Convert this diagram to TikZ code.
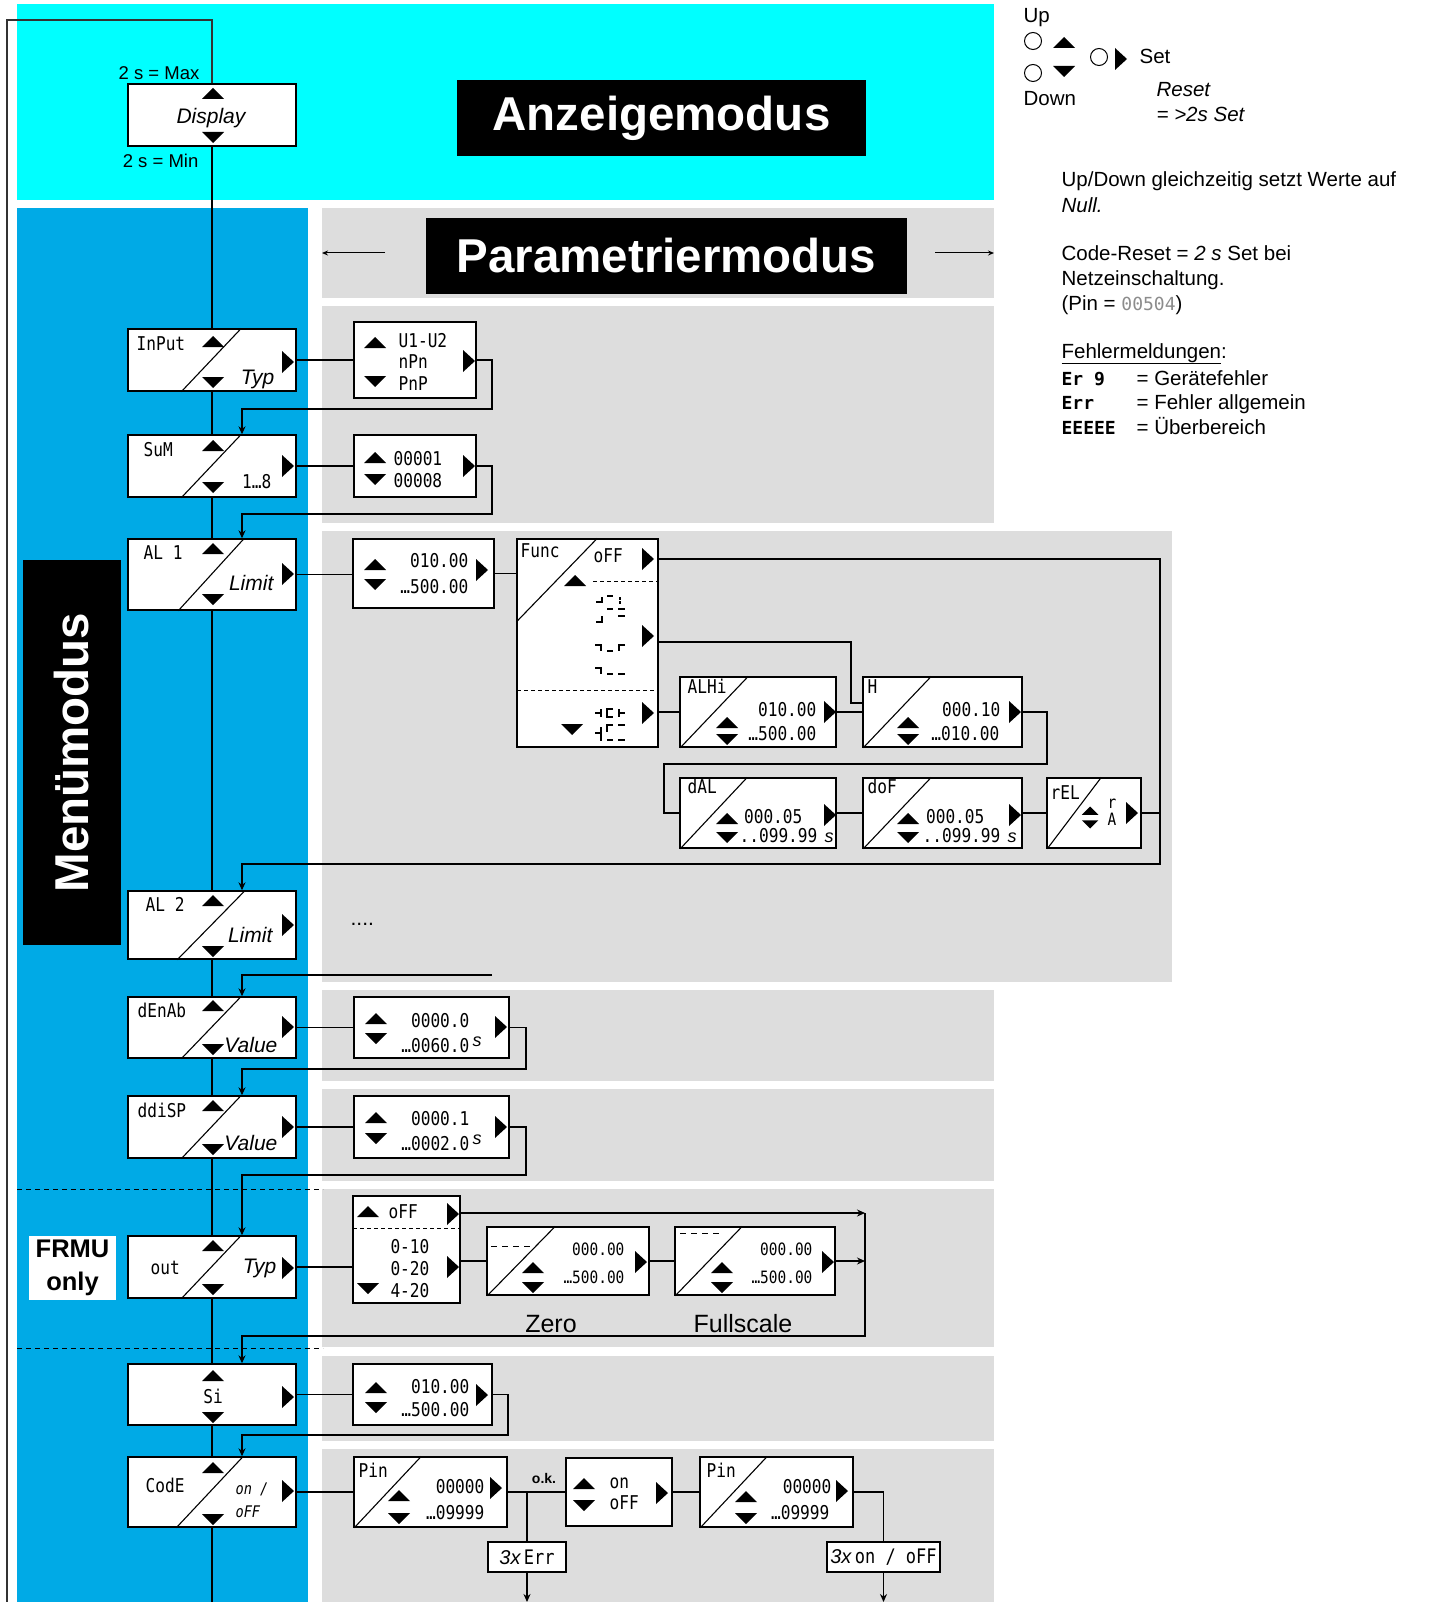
\documentclass[tikz,border=0pt]{standalone}
\usepackage{fontspec}
\setmainfont{Liberation Sans}
\newfontfamily\segfont[FakeStretch=0.85]{DejaVu Sans Mono}
\newfontfamily\segwide{DejaVu Sans Mono}
\usetikzlibrary{arrows.meta}

\definecolor{anzcyan}{RGB}{0,255,255}
\definecolor{menublue}{RGB}{0,170,230}
\definecolor{pargrey}{RGB}{221,221,221}

\tikzset{
  box/.style={draw, fill=white, line width=1.4pt, inner sep=0pt},
  modebox/.style={fill=black, text=white, inner sep=0pt, font=\fontsize{47.5}{50}\selectfont\bfseries},
  seg/.style={inner sep=0pt, font=\fontsize{19}{21}\segfont},
  segsm/.style={inner sep=0pt, font=\fontsize{17}{19}\segfont},
  segit/.style={inner sep=0pt, font=\fontsize{16}{18}\segfont\itshape},
  lbl/.style={inner sep=0pt, font=\fontsize{21}{24}\selectfont\itshape},
  unit/.style={inner sep=0pt, font=\fontsize{18}{20}\selectfont\itshape},
  txt/.style={inner sep=0pt, font=\fontsize{20.5}{24}\selectfont},
  diag/.style={line width=1.1pt},
  glyph/.style={line width=1.7pt},
  fb/.style={-{Stealth[length=8pt,width=7pt]}},
  upT/.pic={\fill (-11,5) -- (11,5) -- (0,-6) -- cycle;},
  dnT/.pic={\fill (-11,-5) -- (11,-5) -- (0,6) -- cycle;},
  rtT/.pic={\fill (-6,-11) -- (-6,11) -- (6,0) -- cycle;},
}

\begin{document}
\begin{tikzpicture}[x=1pt, y=-1pt, line width=1.2pt]
\useasboundingbox (0,0) rectangle (1431,1602);

% fields
\fill[anzcyan] (17,4) rectangle (994,200);
\fill[menublue] (17,208) rectangle (308,1602);
\foreach \ya/\yb in {208/298, 306/523, 990/1081, 1089/1181, 1189/1347, 1356/1441, 1449/1602}
  \fill[pargrey] (322,\ya) rectangle (994,\yb);
\fill[pargrey] (322,531) rectangle (1172,982);
\draw[dash pattern=on 5pt off 4pt, line width=1pt] (17,1189) -- (323,1189) (17,1348) -- (323,1348);

% titles
\node[modebox, minimum width=409pt, minimum height=76pt] (anz) at (661.5,118) {Anzeigemodus};
\node[modebox, minimum width=481pt, minimum height=76pt] (par) at (666.5,256) {Parametriermodus};
\node[modebox, rotate=90, minimum width=385pt, minimum height=98pt] (men) at (72,752.5) {Menümodus};
\coordinate (parl) at (322,253);
\coordinate (parr) at (994,253);
\draw[-{Stealth[length=6pt,width=5pt]}, line width=1pt] (385,253) -- (parl);
\draw[-{Stealth[length=6pt,width=5pt]}, line width=1pt] (935,253) -- (parr);

% legend
\node[txt, anchor=base west] (lup) at (1023,23) {Up};
\draw[line width=1pt] (1033,41) circle[radius=8.5pt] (1033,73) circle[radius=8.5pt] (1099,57) circle[radius=8.5pt];
\pic at (1064,43) {upT};
\pic at (1064,71) {dnT};
\pic at (1121,59) {rtT};
\node[txt, anchor=base west] (lset) at (1139,64) {Set};
\node[txt, anchor=base west] (ldown) at (1023,106) {Down};
\node[txt, anchor=base west, font=\fontsize{20.5}{24}\selectfont\itshape] (lres) at (1156,97) {Reset};
\node[txt, anchor=base west, font=\fontsize{20.5}{24}\selectfont\itshape] (lres2) at (1156,122) {= >2s Set};

\node[txt, anchor=base west] (n1) at (1061,187) {Up/Down gleichzeitig setzt Werte auf};
\node[txt, anchor=base west] (n2) at (1061,213) {\itshape Null.};
\node[txt, anchor=base west] (n3) at (1061,261) {Code-Reset = \textit{2 s} Set bei};
\node[txt, anchor=base west] (n4) at (1061,286) {Netzeinschaltung.};
\node[txt, anchor=base west] (n5) at (1061,310) {(Pin = {\fontsize{18}{20}\segwide\color{black!45}00504})};
\node[txt, anchor=base west] (n6) at (1061,358) {\underline{Fehlermeldungen}:};
\node[txt, anchor=base west, font=\fontsize{18}{20}\segwide\bfseries] (e1) at (1061,385) {Er 9};
\node[txt, anchor=base west, font=\fontsize{18}{20}\segwide\bfseries] (e2) at (1061,409) {Err};
\node[txt, anchor=base west, font=\fontsize{18}{20}\segwide\bfseries] (e3) at (1061,434) {EEEEE};
\node[txt, anchor=base west] (t1) at (1136,385) {= Gerätefehler};
\node[txt, anchor=base west] (t2) at (1136,409) {= Fehler allgemein};
\node[txt, anchor=base west] (t3) at (1136,434) {= Überbereich};

% display
\node[box, minimum width=168pt, minimum height=62pt] (disp) at (212,115) {};
\node[lbl, anchor=base] at (211,124) {Display};
\pic at (213,94) {upT};
\pic at (213,137) {dnT};
\node[inner sep=0pt, anchor=base east, font=\fontsize{18.5}{20}\selectfont] (smax) at (200,80) {2 s = Max};
\node[inner sep=0pt, anchor=base east, font=\fontsize{18.5}{20}\selectfont] (smin) at (199,168) {2 s = Min};
\draw[line width=1.6pt, black!80] (disp.north) |- (7,20) -- (7,1602);

% menu column
\node[box, minimum width=168pt, minimum height=62pt] (inp) at (212,360) {};
\draw[diag] ([xshift=54pt]inp.south west) -- ([xshift=114pt]inp.north west);
\node[seg, anchor=base west] at (136,350) {InPut};
\node[lbl, anchor=base east] at (275,384) {Typ};
\pic at (213,342) {upT}; \pic at (213,382) {dnT}; \pic at (288,362) {rtT};

\node[box, minimum width=168pt, minimum height=62pt] (sum) at (212,466) {};
\draw[diag] ([xshift=54pt]sum.south west) -- ([xshift=114pt]sum.north west);
\node[seg, anchor=base west] at (143,456) {SuM};
\node[seg, anchor=base east] at (272,488) {1…8};
\pic at (213,446) {upT}; \pic at (213,487) {dnT}; \pic at (288,466) {rtT};

\node[box, minimum width=168pt, minimum height=71pt] (alA) at (212,574.5) {};
\draw[diag] ([xshift=51pt]alA.south west) -- ([xshift=117pt]alA.north west);
\node[seg, anchor=base west] at (143,559) {AL 1};
\node[lbl, anchor=base east] at (274,590) {Limit};
\pic at (213,549) {upT}; \pic at (213,599) {dnT}; \pic at (288,574) {rtT};

\node[box, minimum width=168pt, minimum height=68pt] (alB) at (212,925) {};
\draw[diag] ([xshift=50pt]alB.south west) -- ([xshift=118pt]alB.north west);
\node[seg, anchor=base west] at (145,911) {AL 2};
\node[lbl, anchor=base east] at (273,942) {Limit};
\pic at (213,901) {upT}; \pic at (213,951) {dnT}; \pic at (288,925) {rtT};

\node[box, minimum width=168pt, minimum height=61pt] (denab) at (212,1027.5) {};
\draw[diag] ([xshift=54pt]denab.south west) -- ([xshift=114pt]denab.north west);
\node[seg, anchor=base west] at (137,1017) {dEnAb};
\node[lbl, anchor=base east] at (278,1052) {Value};
\pic at (213,1006) {upT}; \pic at (213,1049) {dnT}; \pic at (288,1027) {rtT};

\node[box, minimum width=168pt, minimum height=62pt] (ddisp) at (212,1127) {};
\draw[diag] ([xshift=54pt]ddisp.south west) -- ([xshift=114pt]ddisp.north west);
\node[seg, anchor=base west] at (137,1117) {ddiSP};
\node[lbl, anchor=base east] at (278,1150) {Value};
\pic at (213,1106) {upT}; \pic at (213,1149) {dnT}; \pic at (288,1127) {rtT};

\node[box, minimum width=168pt, minimum height=62pt] (outm) at (212,1267) {};
\draw[diag] ([xshift=54pt]outm.south west) -- ([xshift=114pt]outm.north west);
\node[seg, anchor=base west] at (150,1274) {out};
\node[lbl, anchor=base east] at (277,1273) {Typ};
\pic at (213,1246) {upT}; \pic at (213,1289) {dnT}; \pic at (288,1268) {rtT};
\node[fill=white, inner sep=0pt, minimum width=87pt, minimum height=64pt, align=center,
      font=\fontsize{25.5}{33}\selectfont\bfseries] (frmu) at (72.5,1268) {FRMU\\only};

\node[box, minimum width=168pt, minimum height=61pt] (si) at (212,1394.5) {};
\node[seg, anchor=base] at (213,1403) {Si};
\pic at (213,1376) {upT}; \pic at (213,1417) {dnT}; \pic at (288,1397) {rtT};

\node[box, minimum width=168pt, minimum height=70pt] (code) at (212,1492) {};
\draw[diag] ([xshift=49pt]code.south west) -- ([xshift=116pt]code.north west);
\node[seg, anchor=base west] at (145,1492) {CodE};
\node[segit, anchor=base west] at (235,1494) {on /};
\node[segit, anchor=base west] at (235,1517) {oFF};
\pic at (213,1468) {upT}; \pic at (213,1519) {dnT}; \pic at (288,1491) {rtT};

\draw (disp) -- (inp) -- (sum) -- (alA) -- (alB) -- (denab) -- (ddisp) -- (outm) -- (si) -- (code);
\draw (code.south) -- (code.south |- 0,1602);

% InPut / SuM values
\node[box, minimum width=122pt, minimum height=76pt] (inpv) at (415,360) {};
\node[seg, anchor=base west] at (398,347) {U1-U2};
\node[seg, anchor=base west] at (398,368) {nPn};
\node[seg, anchor=base west] at (398,390) {PnP};
\pic at (375,343) {upT}; \pic at (375,381) {dnT}; \pic at (469,361) {rtT};

\node[box, minimum width=122pt, minimum height=62pt] (sumv) at (415,466) {};
\node[seg, anchor=base west] at (393,465) {00001};
\node[seg, anchor=base west] at (393,487) {00008};
\pic at (375,458) {upT}; \pic at (375,479) {dnT}; \pic at (469,466) {rtT};

% AL 1 values
\node[box, minimum width=141pt, minimum height=69pt] (alAv) at (423.5,573.5) {};
\node[seg, anchor=base east] at (469,567) {010.00};
\node[seg, anchor=base east] at (469,593) {…500.00};
\pic at (375,565) {upT}; \pic at (375,584) {dnT}; \pic at (482,570) {rtT};

\node[box, minimum width=141pt, minimum height=208pt] (func) at (587.5,643) {};
\draw[diag] ([yshift=21pt]func.west) -- ([xshift=81pt]func.north west);
\node[seg, anchor=base west] at (520,557) {Func};
\node[seg, anchor=base west] at (593,562) {oFF};
\draw[dash pattern=on 4pt off 3pt, line width=1pt] (593,581) -- (658,581) (517,690) -- (658,690);
\pic at (575,581) {upT}; \pic at (572,729) {dnT};
\pic at (648,559) {rtT}; \pic at (648,636) {rtT}; \pic at (648,713) {rtT};
\draw[glyph] (596,602) -- (602,602) -- (602,597) (607,596) -- (613,596) (620,597) -- (620,599.5) (620,601) -- (620,604);
\draw[glyph] (596,622) -- (602,622) -- (602,616) (607,609) -- (613,609) (618,609) -- (625,609) (618,616) -- (625,616);
\draw[glyph] (595,645) -- (601,645) -- (601,651) (607,651) -- (613,651) (625,645) -- (619,645) -- (619,651);
\draw[glyph] (595,668) -- (601,668) -- (601,674) (607,674) -- (613,674) (618,674) -- (625,674);
\draw[glyph] (601,709) -- (601,717) (595,713) -- (601,713) (613,709) -- (607,709) -- (607,717) -- (613,717) (619,709) -- (619,717) (619,713) -- (625,713);
\draw[glyph] (601,727) -- (601,741) (595,733) -- (601,733) (613,725) -- (607,725) -- (607,732) (618,725) -- (625,725) (607,740) -- (613,740) (618,740) -- (625,740);

\node[box, minimum width=156pt, minimum height=70pt] (alhi) at (758,712) {};
\draw[diag] ([xshift=1pt]alhi.south west) -- ([xshift=69pt]alhi.north west);
\node[seg, anchor=base west] at (687,693) {ALHi};
\node[seg, anchor=base east] at (817,716) {010.00};
\node[seg, anchor=base east] at (817,740) {…500.00};
\pic at (727,723) {upT}; \pic at (727,739) {dnT}; \pic at (830,712) {rtT};

\node[box, minimum width=159pt, minimum height=70pt] (hys) at (942.5,712) {};
\draw[diag] ([xshift=1pt]hys.south west) -- ([xshift=69pt]hys.north west);
\node[seg, anchor=base west] at (867,693) {H};
\node[seg, anchor=base east] at (1001,716) {000.10};
\node[seg, anchor=base east] at (1000,740) {…010.00};
\pic at (908,723) {upT}; \pic at (908,739) {dnT}; \pic at (1015,712) {rtT};

\node[box, minimum width=156pt, minimum height=70pt] (dal) at (758,813) {};
\draw[diag] ([xshift=1pt]dal.south west) -- ([xshift=68pt]dal.north west);
\node[seg, anchor=base west] at (687,793) {dAL};
\node[seg, anchor=base east] at (803,823) {000.05};
\node[seg, anchor=base east] at (818,842) {..099.99};
\node[unit, anchor=base west] at (824,842) {s};
\pic at (727,819) {upT}; \pic at (727,837) {dnT}; \pic at (830,815) {rtT};

\node[box, minimum width=159pt, minimum height=70pt] (dof) at (942.5,813) {};
\draw[diag] ([xshift=1pt]dof.south west) -- ([xshift=69pt]dof.north west);
\node[seg, anchor=base west] at (867,793) {doF};
\node[seg, anchor=base east] at (985,823) {000.05};
\node[seg, anchor=base east] at (1001,842) {..099.99};
\node[unit, anchor=base west] at (1007,842) {s};
\pic at (908,819) {upT}; \pic at (908,837) {dnT}; \pic at (1015,815) {rtT};

\node[box, minimum width=94pt, minimum height=70pt] (rel) at (1094,813) {};
\draw[diag] ([xshift=1pt]rel.south west) -- ([xshift=55pt]rel.north west);
\node[seg, anchor=base west] at (1050,799) {rEL};
\pic[scale=0.75] at (1090,811) {upT}; \pic[scale=0.75] at (1090,824) {dnT};
\node[segsm, anchor=base] at (1112,808) {r};
\node[segsm, anchor=base] at (1112,825) {A};
\pic at (1132,813) {rtT};

% AL 2
\node[inner sep=0pt, anchor=base west, font=\fontsize{21}{24}\selectfont] (more) at (350,925) {....};

% dEnAb / ddiSP values
\node[box, minimum width=155pt, minimum height=61pt] (denabv) at (431.5,1027.5) {};
\node[seg, anchor=base east] at (470,1027) {0000.0};
\node[seg, anchor=base east] at (470,1052) {…0060.0};
\node[unit, anchor=base west] at (472,1046) {s};
\pic at (376,1019) {upT}; \pic at (376,1038) {dnT}; \pic at (501,1027) {rtT};

\node[box, minimum width=155pt, minimum height=62pt] (ddispv) at (431.5,1127) {};
\node[seg, anchor=base east] at (470,1125) {0000.1};
\node[seg, anchor=base east] at (470,1150) {…0002.0};
\node[unit, anchor=base west] at (472,1144) {s};
\pic at (376,1118) {upT}; \pic at (376,1138) {dnT}; \pic at (501,1127) {rtT};

% out values
\node[box, minimum width=107pt, minimum height=107pt] (outv) at (406.5,1249.5) {};
\node[seg, anchor=base west] at (388,1218) {oFF};
\draw[dash pattern=on 4pt off 3pt, line width=1pt] (353,1228) -- (460,1228);
\node[seg, anchor=base east] at (430,1253) {0-10};
\node[seg, anchor=base east] at (430,1275) {0-20};
\node[seg, anchor=base east] at (430,1297) {4-20};
\pic at (368,1212) {upT}; \pic at (368,1288) {dnT};
\pic at (453,1214) {rtT}; \pic at (453,1267) {rtT};

\node[box, minimum width=162pt, minimum height=68pt] (zero) at (568,1261) {};
\draw[diag] ([xshift=1pt]zero.south west) -- ([xshift=69pt]zero.north west);
\draw[dash pattern=on 6pt off 5pt, line width=1pt] (491,1246) -- (533,1246);
\node[segsm, anchor=base east] at (625,1255) {000.00};
\node[segsm, anchor=base east] at (625,1283) {…500.00};
\pic at (533,1268) {upT}; \pic at (533,1287) {dnT}; \pic at (641,1262) {rtT};
\node[inner sep=0pt, anchor=base, font=\fontsize{25}{28}\selectfont] at (551,1332) {Zero};

\node[box, minimum width=160pt, minimum height=68pt] (full) at (755,1261) {};
\draw[diag] ([xshift=1pt]full.south west) -- ([xshift=68pt]full.north west);
\draw[dash pattern=on 6pt off 5pt, line width=1pt] (680,1233) -- (722,1233);
\node[segsm, anchor=base east] at (813,1255) {000.00};
\node[segsm, anchor=base east] at (813,1283) {…500.00};
\pic at (722,1268) {upT}; \pic at (722,1287) {dnT}; \pic at (828,1262) {rtT};
\node[inner sep=0pt, anchor=base, font=\fontsize{25}{28}\selectfont] at (743,1332) {Fullscale};

% Si value
\node[box, minimum width=139pt, minimum height=61pt] (siv) at (422.5,1394.5) {};
\node[seg, anchor=base east] at (470,1393) {010.00};
\node[seg, anchor=base east] at (470,1416) {…500.00};
\pic at (376,1388) {upT}; \pic at (376,1407) {dnT}; \pic at (482,1395) {rtT};

% code values
\node[box, minimum width=153pt, minimum height=70pt] (pin) at (430.5,1492) {};
\draw[diag] ([xshift=1pt]pin.south west) -- ([xshift=68pt]pin.north west);
\node[seg, anchor=base west] at (358,1477) {Pin};
\node[seg, anchor=base east] at (485,1493) {00000};
\node[seg, anchor=base east] at (485,1519) {…09999};
\pic at (399,1496) {upT}; \pic at (399,1518) {dnT}; \pic at (496,1488) {rtT};

\node[box, minimum width=106pt, minimum height=68pt] (onoff) at (619,1492) {};
\node[seg, anchor=base west] at (609,1488) {on};
\node[seg, anchor=base west] at (609,1509) {oFF};
\pic at (584,1484) {upT}; \pic at (584,1505) {dnT}; \pic at (662,1493) {rtT};

\node[box, minimum width=153pt, minimum height=70pt] (pinb) at (776.5,1492) {};
\draw[diag] ([xshift=1pt]pinb.south west) -- ([xshift=68pt]pinb.north west);
\node[seg, anchor=base west] at (706,1477) {Pin};
\node[seg, anchor=base east] at (832,1493) {00000};
\node[seg, anchor=base east] at (830,1519) {…09999};
\pic at (746,1497) {upT}; \pic at (746,1518) {dnT}; \pic at (842,1491) {rtT};

\node[box, minimum width=78pt, minimum height=30pt, font=\fontsize{20}{22}\selectfont\itshape] (errx) at (527,1557) {3x\,{\segfont\upshape Err}};
\node[box, minimum width=113pt, minimum height=30pt, font=\fontsize{20}{22}\selectfont\itshape] (onx) at (883.5,1557) {3x\,{\segfont\upshape on / oFF}};
\node[inner sep=0pt, anchor=base, font=\fontsize{14}{16}\selectfont\bfseries] (ok) at (544,1483) {o.k.};

% connectors
\draw (inp.east) -- (inp.east -| inpv.west);
\draw[fb] (inpv.east) -| (492,409) -| ([xshift=30pt]sum.north);
\draw (sum.east) -- (sumv.west);
\draw[fb] (sumv.east) -| (492,514) -| ([xshift=30pt]alA.north);
\draw (alA.east) -- (alA.east -| alAv.west);
\draw (alAv.east) -- (alAv.east -| func.west);
\draw[fb] (func.east |- 0,559) -| (1160,864) -| ([xshift=30pt]alB.north);
\draw (func.east |- 0,642) -| (851,703) -- (hys.west |- 0,703);
\draw (func.east |- alhi.west) -- (alhi.west);
\draw (alhi) -- (hys);
\draw (hys.east) -| (1047,764) -| (664,813) -- (dal.west);
\draw (dal) -- (dof);
\draw (dof) -- (rel);
\draw (rel.east) -- (rel.east -| 1160,0);
\draw[fb] (492,975) -| ([xshift=30pt]denab.north);
\draw (denab.east) -- (denabv.west);
\draw[fb] (denabv.east) -| (526,1069) -| ([xshift=30pt]ddisp.north);
\draw (ddisp.east) -- (ddispv.west);
\draw[fb] (ddispv.east) -| (526,1175) -| ([xshift=30pt]outm.north);
\draw (outm.east) -- (outm.east -| outv.west);
\draw[fb] (outv.east |- 0,1213) -- (865,1213);
\draw (outv.east |- zero.west) -- (zero.west);
\draw (zero) -- (full);
\draw[fb] (full.east) -- (865,1261);
\draw[fb] (865,1213) -- (865,1336) -| ([xshift=30pt]si.north);
\draw (si.east) -- (siv.west);
\draw[fb] (siv.east) -| (508,1435) -| ([xshift=30pt]code.north);
\draw (code.east) -- (code.east -| pin.west);
\draw (pin.east) -- (pin.east -| onoff.west);
\draw (errx.north |- pin.east) -- (errx.north);
\draw[fb] (errx.south) -- (errx.south |- 0,1602);
\draw (onoff) -- (pinb);
\draw (pinb.east) -| (onx.north);
\draw[fb] (onx.south) -- (onx.south |- 0,1602);
\end{tikzpicture}
\end{document}
